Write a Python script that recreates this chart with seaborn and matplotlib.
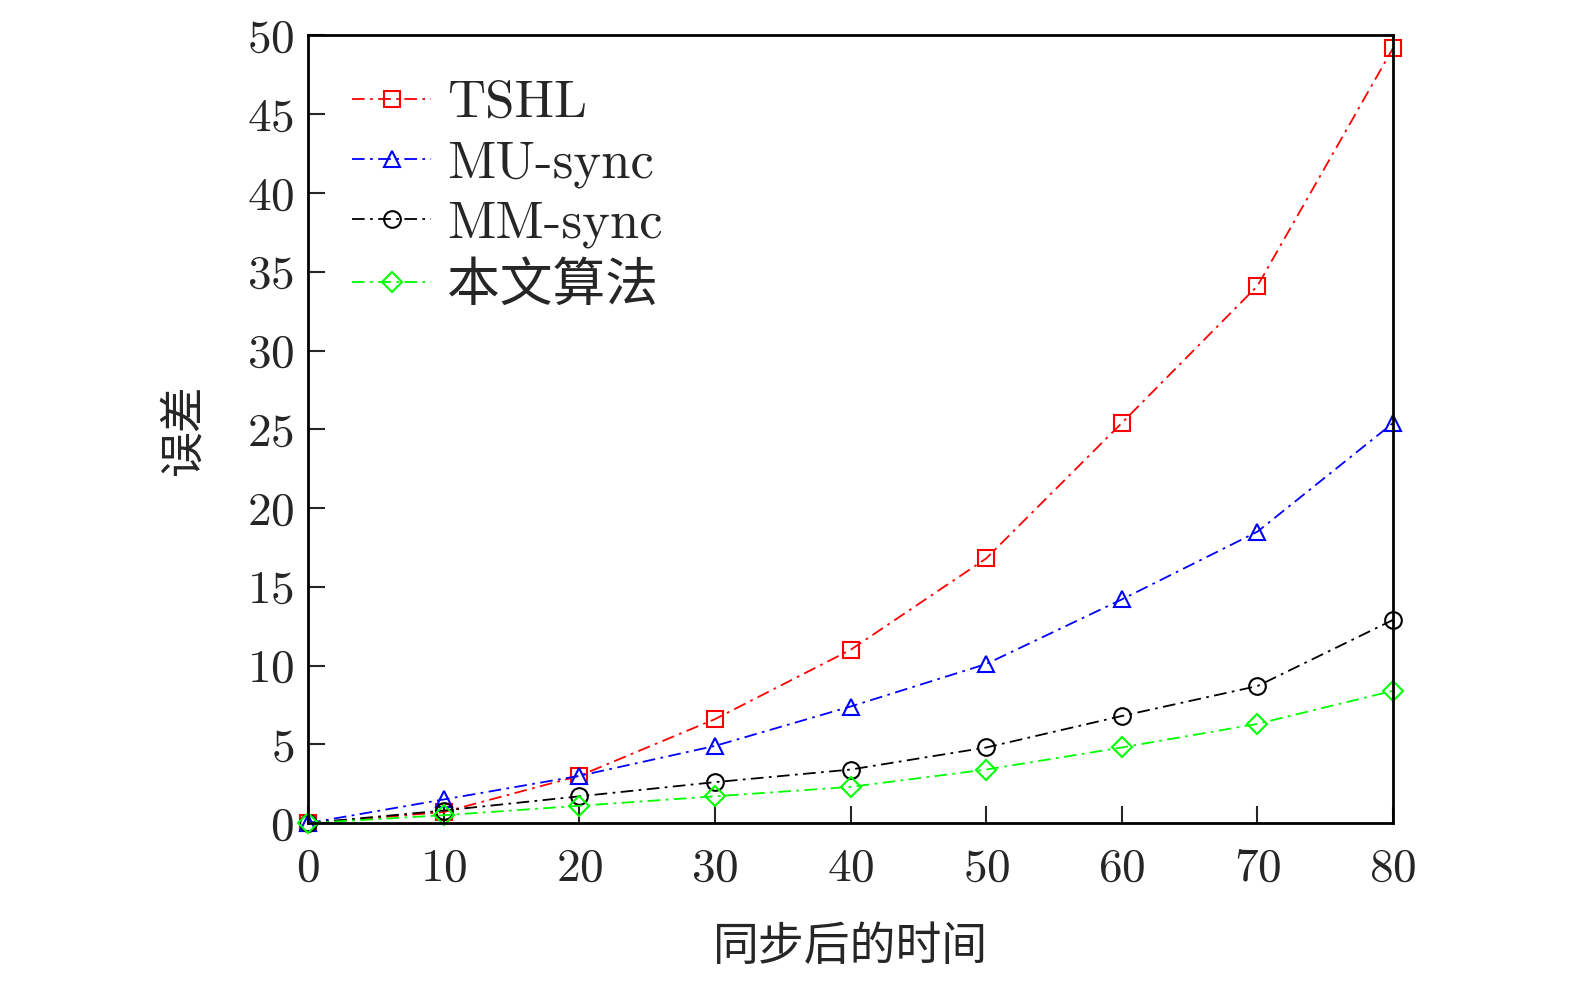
import matplotlib
matplotlib.use("Agg")
import matplotlib.pyplot as plt
import seaborn as sns
import pandas as pd

# values
time = [0, 10, 20, 30, 40, 50, 60, 70, 80]
tshl = [0, 0.7, 3.0, 6.6, 11.0, 16.8, 25.4, 34.1, 49.2]
mu_sync = [0, 1.5, 3.0, 4.9, 7.4, 10.1, 14.2, 18.5, 25.4]
mm_sync = [0, 0.8, 1.7, 2.6, 3.4, 4.8, 6.8, 8.7, 12.9]
ours = [0, 0.5, 1.1, 1.7, 2.3, 3.4, 4.8, 6.3, 8.4]

labels = ["TSHL", "MU-sync", "MM-sync", "本文算法"]
colors = ["#ff0000", "#0000ff", "#000000", "#00ff00"]
markers = ["s", "^", "o", "D"]
xticks = [0, 10, 20, 30, 40, 50, 60, 70, 80]
yticks = [0, 5, 10, 15, 20, 25, 30, 35, 40, 45, 50]

sns.set_theme(style="white")
plt.rcParams["font.family"] = ["cmr10", "Noto Sans CJK SC", "DejaVu Sans"]
plt.rcParams["axes.formatter.use_mathtext"] = True

fig = plt.figure(figsize=(15.75, 9.84), dpi=100)
ax = fig.add_axes([0.1956, 0.1635, 0.6889, 0.8005])

series = [tshl, mu_sync, mm_sync, ours]
for vals, lab, col, mk in zip(series, labels, colors, markers):
    df = pd.DataFrame({"t": time, "err": vals})
    sns.lineplot(data=df, x="t", y="err", ax=ax, color=col, label=lab,
                 marker=mk, markersize=12 if mk != "D" else 10,
                 markerfacecolor="none", markeredgecolor=col,
                 markeredgewidth=1.5, linewidth=1.3,
                 dashes=(7, 3, 1.5, 3), clip_on=False)

ax.set_xlim(0, 80)
ax.set_ylim(0, 50)
ax.set_xticks(xticks)
ax.set_yticks(yticks)
ax.tick_params(axis="both", direction="in", length=12, width=1.5,
               labelsize=34, top=False, right=False,
               bottom=True, left=True)
ax.tick_params(axis="x", pad=18)
ax.tick_params(axis="y", pad=10)
for sp in ax.spines.values():
    sp.set_visible(True)
    sp.set_color("black")
    sp.set_linewidth(2)

ax.set_xlabel("同步后的时间", fontsize=33, labelpad=26)
ax.set_ylabel("误差", fontsize=33, labelpad=30)

leg = ax.legend(loc="upper left", frameon=False, fontsize=38,
                handlelength=1.5, handletextpad=0.3, labelspacing=0.25,
                borderaxespad=0.0, bbox_to_anchor=(0.021, 0.97))

fig.savefig("out.png", dpi=100)
